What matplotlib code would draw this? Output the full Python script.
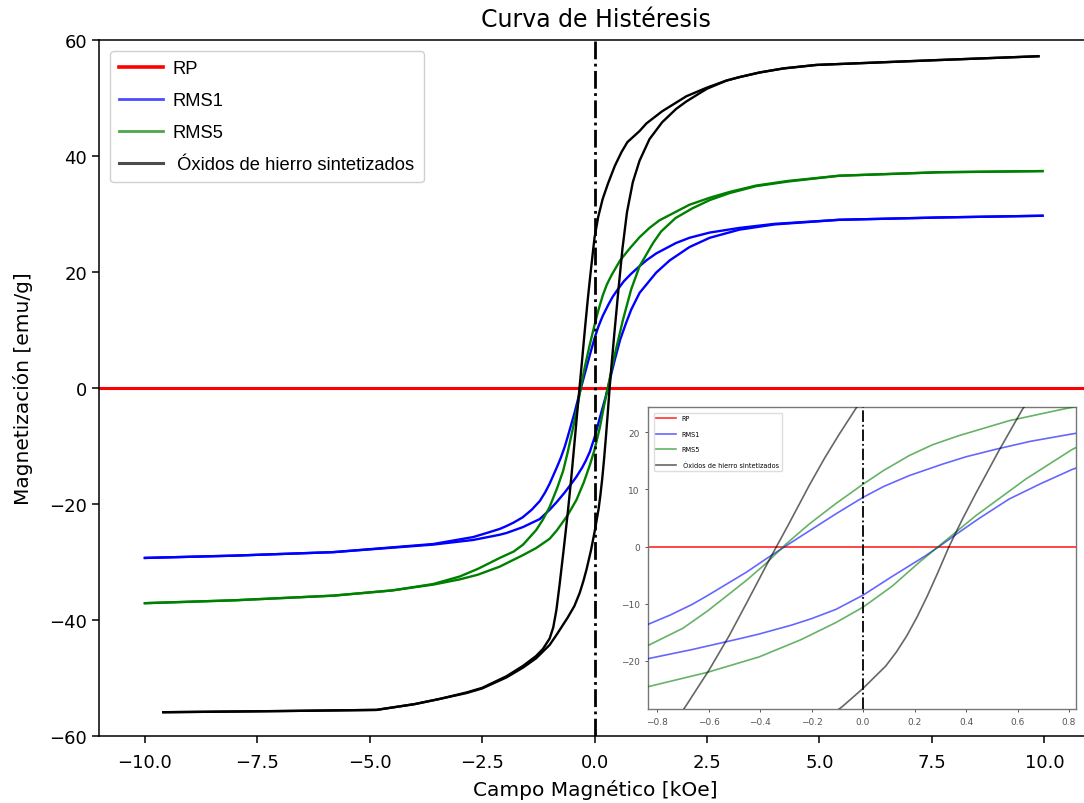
import matplotlib
matplotlib.use("Agg")
import matplotlib.pyplot as plt
from matplotlib.lines import Line2D

# ---------------- data ----------------
labels = ["RP", "RMS1", "RMS5", " Óxidos de hierro sintetizados"]

# RMS1 (blue) - descending-field branch and ascending-field branch
rms1_up_H = [9.96, 7.67, 5.44, 4.0, 3.22, 2.56, 2.11, 1.81, 1.37, 1.15, 1.0, 0.813, 0.65, 0.515, 0.4,
             0.308, 0.179, 0.08, 0.0, -0.106, -0.21, -0.30, -0.378, -0.45, -0.52, -0.605, -0.663,
             -0.75, -0.835, -1.0, -1.1, -1.22, -1.4, -1.6, -1.8, -1.96, -2.11, -2.4, -2.7, -3.59,
             -5.81, -8.0, -10.0]
rms1_up_M = [29.7, 29.4, 29.0, 28.3, 27.6, 26.8, 25.9, 25.0, 23.2, 22.0, 21.0, 19.7, 18.4, 17.0, 15.7,
             14.4, 12.4, 10.5, 8.6, 5.7, 2.7, 0.1, -2.2, -4.4, -6.3, -8.6, -10.1,
             -12.0, -13.6, -16.5, -18.0, -19.5, -21.0, -22.3, -23.2, -23.8, -24.3, -25.0, -25.7, -26.9,
             -28.3, -28.9, -29.3]
rms1_lo_H = [-10.0, -8.0, -5.81, -3.59, -2.7, -2.11, -1.96, -1.6, -1.22, -1.0, -0.835, -0.663,
             -0.469, -0.404, -0.275, -0.2, -0.106, 0.0, 0.114, 0.243, 0.295, 0.373, 0.45, 0.567, 0.69,
             0.813, 1.0, 1.37, 1.67, 2.11, 2.56, 3.22, 4.0, 5.44, 7.67, 9.96]
rms1_lo_M = [-29.3, -28.9, -28.3, -27.0, -26.2, -25.3, -25.0, -24.0, -22.6, -21.0, -19.6, -18.0,
             -16.0, -15.3, -13.7, -12.6, -11.0, -8.5, -5.2, -1.6, 0.0, 2.5, 4.9, 8.3, 11.0,
             13.5, 16.4, 19.9, 22.0, 24.3, 25.9, 27.3, 28.2, 29.0, 29.4, 29.7]

# RMS5 (green)
rms5_up_H = [9.96, 7.67, 5.44, 4.3, 3.59, 3.0, 2.56, 2.11, 1.44, 1.22, 1.0, 0.774, 0.567, 0.373, 0.27,
             0.179, 0.08, 0.0, -0.106, -0.21, -0.30, -0.378, -0.45, -0.52, -0.605, -0.7, -0.835, -1.0,
             -1.15, -1.3, -1.59, -1.8, -2.11, -2.6, -3.0, -3.59, -4.5, -5.81, -8.0, -10.0]
rms5_up_M = [37.4, 37.2, 36.6, 35.7, 34.9, 33.8, 32.8, 31.6, 28.9, 27.6, 26.0, 24.0, 22.0, 19.4, 17.8,
             15.9, 13.3, 10.9, 7.5, 3.9, 0.4, -3.0, -5.8, -8.3, -11.3, -14.3, -17.3, -20.5,
             -22.7, -24.5, -27.0, -28.2, -29.3, -31.2, -32.5, -33.8, -34.9, -35.8, -36.6, -37.1]
rms5_lo_H = [-10.0, -8.0, -5.81, -4.5, -3.59, -3.0, -2.6, -2.11, -1.59, -1.3, -1.0, -0.835, -0.605,
             -0.404, -0.242, -0.106, 0.0, 0.114, 0.217, 0.295, 0.438, 0.632, 0.813, 1.0, 1.3, 1.48,
             1.8, 2.18, 2.56, 3.0, 3.59, 4.3, 5.44, 7.67, 9.96]
rms5_lo_M = [-37.1, -36.6, -35.8, -34.9, -33.9, -33.0, -32.2, -30.8, -28.8, -27.6, -26.0, -24.5, -22.0,
             -19.3, -16.3, -13.3, -10.6, -6.9, -2.8, 0.1, 5.4, 11.8, 17.0, 21.0, 25.0, 27.0,
             29.3, 31.0, 32.4, 33.6, 34.8, 35.6, 36.6, 37.2, 37.4]

# Óxidos de hierro sintetizados (black)
ox_up_H = [9.87, 7.5, 4.93, 4.2, 3.67, 3.22, 2.93, 2.5, 2.04, 1.5, 1.15, 1.0, 0.73, 0.6, 0.45, 0.3,
           0.18, 0.08, 0.0, -0.027, -0.093, -0.15, -0.21, -0.29, -0.365, -0.449, -0.52, -0.598,
           -0.687, -0.78, -0.85, -0.92, -1.0, -1.15, -1.3, -1.59, -1.96, -2.5, -2.85, -3.44, -4.0,
           -4.85, -7.0, -9.59]
ox_up_M = [57.2, 56.5, 55.7, 55.1, 54.4, 53.6, 53.0, 51.8, 50.3, 47.7, 45.6, 44.3, 42.4, 40.7, 38.3,
           35.3, 32.6, 29.5, 26.0, 24.2, 19.6, 15.4, 10.6, 3.8, -2.4, -9.6, -15.6, -21.6,
           -27.8, -34.0, -38.3, -41.3, -43.2, -45.0, -46.2, -47.9, -49.7, -51.7, -52.5, -53.6, -54.5,
           -55.5, -55.7, -55.9]
ox_lo_H = [-9.59, -7.0, -4.85, -4.0, -3.44, -2.85, -2.5, -1.96, -1.59, -1.3, -1.0, -0.85, -0.6,
           -0.45, -0.33, -0.25, -0.18, -0.081, 0.0, 0.088, 0.13, 0.17, 0.21, 0.25, 0.29, 0.334,
           0.385, 0.438, 0.528, 0.619, 0.72, 0.85, 1.0, 1.22, 1.5, 1.81, 2.04, 2.33, 2.5, 2.93,
           3.22, 3.67, 4.2, 4.93, 7.5, 9.87]
ox_lo_M = [-55.9, -55.7, -55.5, -54.5, -53.6, -52.6, -51.8, -49.9, -48.2, -46.6, -44.3, -42.6, -39.6,
           -37.6, -35.3, -33.3, -31.3, -28.0, -24.8, -20.9, -18.4, -15.6, -12.3, -8.6, -4.6, 0.0,
           4.7, 9.3, 16.8, 24.0, 30.3, 35.5, 39.2, 42.9, 45.8, 48.1, 49.4, 50.8, 51.6, 53.0,
           53.6, 54.4, 55.1, 55.7, 56.5, 57.2]

x_ticks = [-10.0, -7.5, -5.0, -2.5, 0.0, 2.5, 5.0, 7.5, 10.0]
y_ticks = [-60, -40, -20, 0, 20, 40, 60]
inset_x_ticks = [-0.8, -0.6, -0.4, -0.2, 0.0, 0.2, 0.4, 0.6, 0.8]
inset_y_ticks = [-20, -10, 0, 10, 20]

series = [
    ("blue", rms1_up_H, rms1_up_M, rms1_lo_H, rms1_lo_M),
    ("green", rms5_up_H, rms5_up_M, rms5_lo_H, rms5_lo_M),
    ("black", ox_up_H, ox_up_M, ox_lo_H, ox_lo_M),
]

# ---------------- figure ----------------
W, H = 1084, 804
fig = plt.figure(figsize=(W / 100, H / 100), dpi=100)
ax = fig.add_axes([99 / W, (H - 737) / H, (1092 - 99) / W, (737 - 41) / H])

ax.axhline(0, color="red", lw=2.2, zorder=2)
for col, uh, um, lh, lm in series:
    ax.plot(uh, um, color=col, lw=1.7, zorder=3)
    ax.plot(lh, lm, color=col, lw=1.7, zorder=3)
ax.axvline(0, color="black", lw=2.0, ls="-.", zorder=4)

ax.set_xlim(-11.02, 11.06)
ax.set_ylim(-60, 60)
ax.set_xticks(x_ticks)
ax.set_yticks(y_ticks)
ax.tick_params(labelsize=13, length=5, width=1.1)
ax.tick_params(axis="x", pad=7)
for s in ax.spines.values():
    s.set_linewidth(1.1)
ax.set_title("Curva de Histéresis", fontsize=17, pad=10)
ax.set_xlabel("Campo Magnético [kOe]", fontsize=14.5, labelpad=6)
ax.set_ylabel("Magnetización [emu/g]", fontsize=14.5, labelpad=12)

handles = [Line2D([], [], color="red", lw=2.6),
           Line2D([], [], color="blue", lw=2.0, alpha=0.7),
           Line2D([], [], color="green", lw=2.0, alpha=0.7),
           Line2D([], [], color="black", lw=2.2, alpha=0.7)]
leg = ax.legend(handles, labels, loc="upper left", prop={"family": "Liberation Sans", "size": 13.2},
                handlelength=2.4, handletextpad=0.5, labelspacing=0.82, borderaxespad=0.6,
                framealpha=1.0, borderpad=0.5)
leg.get_frame().set_edgecolor("#d0d0d0")

# ---------------- inset ----------------
ins = fig.add_axes([648 / W, (H - 710) / H, (1076 - 648) / W, (710 - 408) / H])
ins.axhline(0, color="red", lw=1.2, alpha=0.85, zorder=2)
for col, uh, um, lh, lm in series:
    ins.plot(uh, um, color=col, lw=1.2, alpha=0.6, zorder=3)
    ins.plot(lh, lm, color=col, lw=1.2, alpha=0.6, zorder=3)
ins.axvline(0, color="black", lw=1.3, ls="-.", zorder=4)
ins.set_xlim(-0.835, 0.827)
ins.set_ylim(-28.4, 24.4)
ins.set_xticks(inset_x_ticks)
ins.set_yticks(inset_y_ticks)
ins.tick_params(labelsize=6.5, length=2.5, width=0.7, colors="#555555")
for s in ins.spines.values():
    s.set_color("#777777")
    s.set_linewidth(1.0)
ih = [Line2D([], [], color="red", lw=1.2, alpha=0.8),
      Line2D([], [], color="blue", lw=1.2, alpha=0.6),
      Line2D([], [], color="green", lw=1.2, alpha=0.6),
      Line2D([], [], color="black", lw=1.2, alpha=0.6)]
il = ins.legend(ih, labels, loc="upper left", fontsize=4.7, handlelength=3.0, labelspacing=1.45,
                borderaxespad=0.9, framealpha=1.0)
il.get_frame().set_edgecolor("#dddddd")

fig.savefig("out.png", dpi=100)
